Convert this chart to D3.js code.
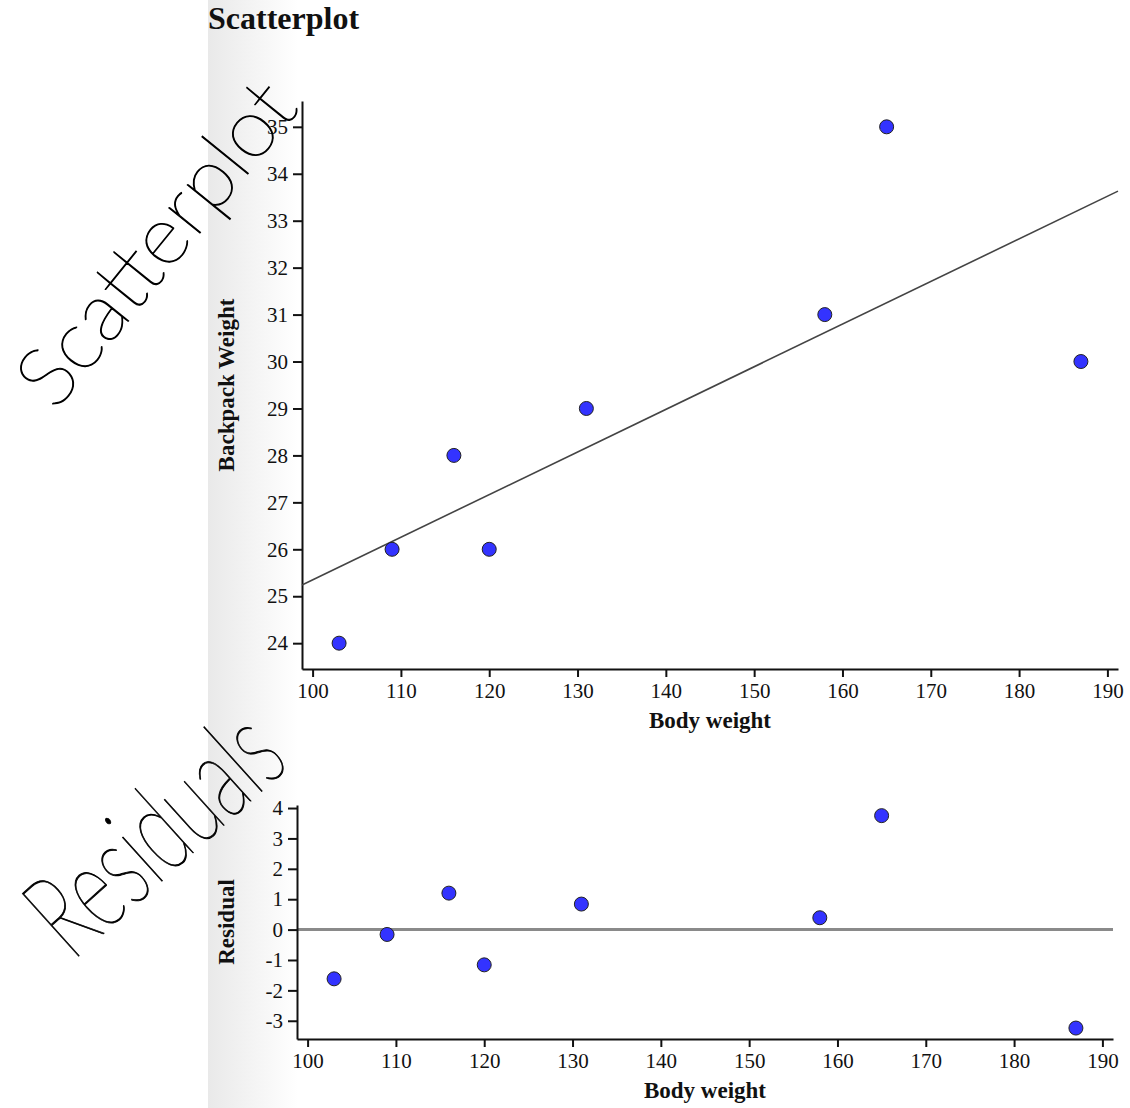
<!DOCTYPE html>
<html>
<head>
<meta charset="utf-8">
<script src="https://cdn.jsdelivr.net/npm/d3@7/dist/d3.min.js"></script>
<style>
  body { margin: 0; background: #fff; }
  svg { display: block; }
  .tick text { font-family: "Liberation Serif", "Times New Roman", serif; font-size: 21px; fill: #111; }
  .domain, .tick line { stroke: #111; stroke-width: 2; }
  .lbl { font-family: "Liberation Serif", "Times New Roman", serif; font-size: 23px; font-weight: bold; fill: #111; }
  .hand { font-family: Lato, "DejaVu Sans", sans-serif; font-weight: 100; fill: #000; stroke: #000; stroke-width: 1; }
</style>
</head>
<body>
<svg id="chart"></svg>
<script>
// body weight vs backpack weight
var bodyWeight = [103, 109, 116, 120, 131, 158, 165, 187];
var packWeight = [24, 26, 28, 26, 29, 31, 35, 30];
// residuals from the fitted line
var residuals = [-1.62, -0.16, 1.2, -1.16, 0.84, 0.39, 3.75, -3.24];
// fitted line, read at both ends of the x range
var fitX = [98.8, 191.2];
var fitY = [25.24, 33.63];

var xTicks = [100, 110, 120, 130, 140, 150, 160, 170, 180, 190];
var yTicks = [24, 25, 26, 27, 28, 29, 30, 31, 32, 33, 34, 35];
var rTicks = [-3, -2, -1, 0, 1, 2, 3, 4];

var svg = d3.select('#chart')
  .attr('width', 1130)
  .attr('height', 1108);

// grey strip on the left of the page
var grad = svg.append('defs').append('linearGradient')
  .attr('id', 'strip')
  .attr('x1', '0%').attr('x2', '100%');
grad.append('stop').attr('offset', '0%').attr('stop-color', '#e9e9e9');
grad.append('stop').attr('offset', '100%').attr('stop-color', '#ffffff');
svg.append('rect')
  .attr('x', 208).attr('y', 0)
  .attr('width', 90).attr('height', 1108)
  .attr('fill', 'url(#strip)');

svg.append('text')
  .attr('x', 208).attr('y', 29)
  .attr('class', 'lbl')
  .style('font-size', '32px')
  .text('Scatterplot');

// plain hyphen for negatives, as in the picture
var fmt = function(d) { return String(d); };

// ---------- scatterplot ----------
var x = d3.scaleLinear().domain([98.8, 191.2]).range([302, 1118]);
var y = d3.scaleLinear().domain([23.45, 35.55]).range([669, 101]);

svg.append('g')
  .attr('transform', 'translate(0,669)')
  .call(d3.axisBottom(x).tickValues(xTicks).tickFormat(fmt).tickSize(8).tickPadding(6).tickSizeOuter(0));
svg.append('g')
  .attr('transform', 'translate(302,0)')
  .call(d3.axisLeft(y).tickValues(yTicks).tickFormat(fmt).tickSize(9).tickPadding(5).tickSizeOuter(0));

svg.append('line')
  .attr('x1', x(fitX[0])).attr('y1', y(fitY[0]))
  .attr('x2', x(fitX[1])).attr('y2', y(fitY[1]))
  .attr('stroke', '#444').attr('stroke-width', 1.6);

svg.append('g').selectAll('circle')
  .data(bodyWeight)
  .enter().append('circle')
  .attr('cx', function(d) { return x(d); })
  .attr('cy', function(d, i) { return y(packWeight[i]); })
  .attr('r', 7)
  .attr('fill', '#3333ff')
  .attr('stroke', '#222')
  .attr('stroke-width', 1);

svg.append('text').attr('class', 'lbl')
  .attr('x', 710).attr('y', 728)
  .attr('text-anchor', 'middle')
  .text('Body weight');
svg.append('text').attr('class', 'lbl')
  .attr('transform', 'translate(234,385) rotate(-90)')
  .attr('text-anchor', 'middle')
  .text('Backpack Weight');

// ---------- residual plot ----------
var x2 = d3.scaleLinear().domain([98.8, 191.2]).range([297, 1113]);
var y2 = d3.scaleLinear().domain([-3.6, 4.1]).range([1039, 805]);

svg.append('line')
  .attr('x1', x2(98.8)).attr('x2', x2(191.2))
  .attr('y1', y2(0)).attr('y2', y2(0))
  .attr('stroke', '#8a8a8a').attr('stroke-width', 3);

svg.append('g')
  .attr('transform', 'translate(0,1039)')
  .call(d3.axisBottom(x2).tickValues(xTicks).tickFormat(fmt).tickSize(8).tickPadding(6).tickSizeOuter(0));
svg.append('g')
  .attr('transform', 'translate(297,0)')
  .call(d3.axisLeft(y2).tickValues(rTicks).tickFormat(fmt).tickSize(9).tickPadding(5).tickSizeOuter(0));

svg.append('g').selectAll('circle')
  .data(bodyWeight)
  .enter().append('circle')
  .attr('cx', function(d) { return x2(d); })
  .attr('cy', function(d, i) { return y2(residuals[i]); })
  .attr('r', 7)
  .attr('fill', '#3333ff')
  .attr('stroke', '#222')
  .attr('stroke-width', 1);

svg.append('text').attr('class', 'lbl')
  .attr('x', 705).attr('y', 1098)
  .attr('text-anchor', 'middle')
  .text('Body weight');
svg.append('text').attr('class', 'lbl')
  .attr('transform', 'translate(234,922) rotate(-90)')
  .attr('text-anchor', 'middle')
  .text('Residual');

// handwritten notes
svg.append('text').attr('class', 'hand')
  .attr('transform', 'translate(55,412) rotate(-51)')
  .attr('font-size', 82)
  .attr('textLength', 390)
  .attr('lengthAdjust', 'spacingAndGlyphs')
  .text('Scatterplot');
svg.append('text').attr('class', 'hand')
  .attr('transform', 'translate(72,962) rotate(-42)')
  .attr('font-size', 120)
  .attr('textLength', 295)
  .attr('lengthAdjust', 'spacingAndGlyphs')
  .text('Residuals');
</script>
</body>
</html>
